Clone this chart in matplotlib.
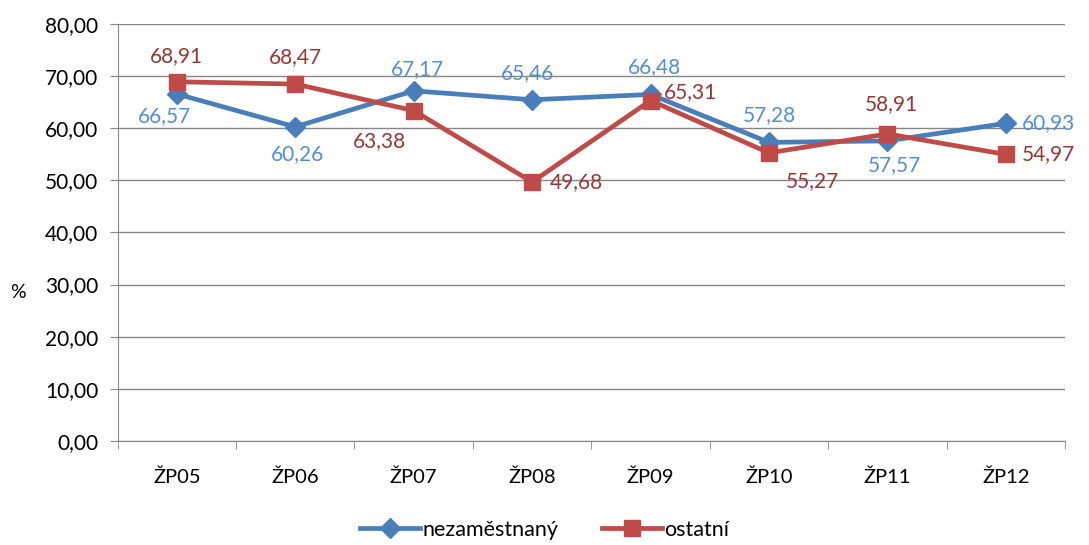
import matplotlib
matplotlib.use("Agg")
import matplotlib.pyplot as plt
from matplotlib.ticker import FixedLocator

categories = ["ŽP05", "ŽP06", "ŽP07", "ŽP08", "ŽP09", "ŽP10", "ŽP11", "ŽP12"]
nezamestnany = [66.57, 60.26, 67.17, 65.46, 66.48, 57.28, 57.57, 60.93]
ostatni = [68.91, 68.47, 63.38, 49.68, 65.31, 55.27, 58.91, 54.97]
yticks = [0, 10, 20, 30, 40, 50, 60, 70, 80]

# label offsets in pixels
blue_off = [(-12, -22), (2, -27), (4, 22), (-5, 27), (4, 27), (0, 27), (7, -24), (43, 0)]
red_off = [(0, 26), (0, 27), (-34, -30), (44, 0), (40, 8), (43, -28), (4, 30), (43, 0)]

plt.rcParams['font.family'] = ['Lato', 'DejaVu Sans']

fig = plt.figure(figsize=(10.89, 5.45), dpi=100)
ax = fig.add_axes([0.108, 0.191, 0.87, 0.765])

x = list(range(len(categories)))
blue, red = "#4A7EBB", "#BE4B48"
ax.plot(x, nezamestnany, color=blue, lw=3.4, marker="D", ms=10, label="nezaměstnaný", zorder=3)
ax.plot(x, ostatni, color=red, lw=3.4, marker="s", ms=11, label="ostatní", zorder=4)

fmt = lambda v: f"{v:.2f}".replace(".", ",")
for i, v in enumerate(nezamestnany):
    ax.annotate(fmt(v), (i, v), xytext=blue_off[i], textcoords="offset pixels",
                ha="center", va="center", fontsize=15, color="#558ED5", zorder=5)
for i, v in enumerate(ostatni):
    ax.annotate(fmt(v), (i, v), xytext=red_off[i], textcoords="offset pixels",
                ha="center", va="center", fontsize=15, color="#953735", zorder=5)

ax.set_xlim(-0.5, len(categories) - 0.5)
ax.set_ylim(0, 80)
ax.set_yticks(yticks)
ax.set_yticklabels([fmt(t) for t in yticks], fontsize=15)
ax.set_xticks(x)
ax.set_xticklabels(categories, fontsize=14.5)
ax.xaxis.set_minor_locator(FixedLocator([i - 0.5 for i in range(len(categories) + 1)]))
ax.tick_params(axis="x", which="major", length=0, pad=20)
ax.tick_params(axis="x", which="minor", length=6, color="#868686", direction="out")
ax.tick_params(axis="y", length=6, color="#868686", pad=8)
ax.grid(axis="y", color="#868686", lw=1)
ax.set_axisbelow(True)
for s in ["top", "right"]:
    ax.spines[s].set_visible(False)
for s in ["left", "bottom"]:
    ax.spines[s].set_color("#868686")

fig.text(18 / 1089, 1 - 292 / 545, "%", fontsize=14, ha="center", va="center")

fig.legend(loc="center", bbox_to_anchor=(0.5, 1 - 530 / 545), ncol=2, frameon=False,
           fontsize=15.5, handlelength=2.8, columnspacing=2.0, handletextpad=0.1)

fig.savefig("out.png", dpi=100)
